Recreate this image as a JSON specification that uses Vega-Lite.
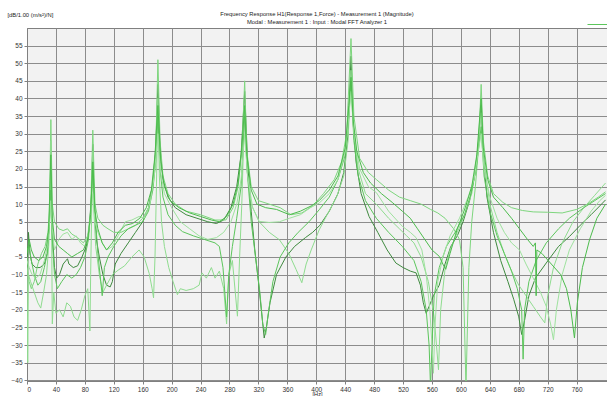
{
  "$schema": "https://vega.github.io/schema/vega-lite/v6.json",
  "autosize": "none",
  "width": 580,
  "height": 353,
  "padding": {"left": 27, "top": 28, "right": 0, "bottom": 15},
  "background": "#ffffff",
  "config": {
    "view": {"fill": "#f2f2f2", "stroke": "#808080", "strokeWidth": 1},
    "font": "Liberation Sans"
  },
  "title": {
    "text": ["Frequency Response H1(Response 1,Force) - Measurement 1 (Magnitude)", "Modal : Measurement 1 : Input : Modal FFT Analyzer 1"],
    "fontSize": 5.8,
    "fontWeight": "normal",
    "color": "#222222",
    "anchor": "middle",
    "offset": 3,
    "dy": 17,
    "lineHeight": 8
  },
  "data": {"values": [
{"s":"C1","f":0,"d":-2},{"s":"C1","f":1,"d":-10},{"s":"C1","f":2,"d":2},{"s":"C1","f":4,"d":-4},{"s":"C1","f":7,"d":-7},{"s":"C1","f":12,"d":-8},{"s":"C1","f":18,"d":-8},{"s":"C1","f":24,"d":-7},{"s":"C1","f":28,"d":-4},{"s":"C1","f":31,"d":5},{"s":"C1","f":33,"d":19},{"s":"C1","f":35,"d":2},{"s":"C1","f":38,"d":-8},{"s":"C1","f":41,"d":-11},{"s":"C1","f":45,"d":-10},{"s":"C1","f":50,"d":-7},{"s":"C1","f":54,"d":-6},{"s":"C1","f":56,"d":-5.5},{"s":"C1","f":58,"d":-7},{"s":"C1","f":64,"d":-8},{"s":"C1","f":70,"d":-7.5},{"s":"C1","f":76,"d":-5},{"s":"C1","f":82,"d":-2},{"s":"C1","f":86,"d":3},{"s":"C1","f":89,"d":12},{"s":"C1","f":91,"d":27},{"s":"C1","f":93,"d":10},{"s":"C1","f":96,"d":0},{"s":"C1","f":100,"d":-5},{"s":"C1","f":105,"d":-10},{"s":"C1","f":110,"d":-13},{"s":"C1","f":115,"d":-13.5},{"s":"C1","f":118,"d":-12},{"s":"C1","f":122,"d":-7},{"s":"C1","f":130,"d":-4},{"s":"C1","f":140,"d":-1},{"s":"C1","f":150,"d":2},{"s":"C1","f":160,"d":5},{"s":"C1","f":168,"d":9},{"s":"C1","f":174,"d":16},{"s":"C1","f":178,"d":26},{"s":"C1","f":181,"d":44},{"s":"C1","f":184,"d":26},{"s":"C1","f":188,"d":17},{"s":"C1","f":195,"d":12},{"s":"C1","f":205,"d":9},{"s":"C1","f":220,"d":7},{"s":"C1","f":235,"d":6},{"s":"C1","f":250,"d":5},{"s":"C1","f":262,"d":4.5},{"s":"C1","f":272,"d":5.5},{"s":"C1","f":282,"d":9},{"s":"C1","f":290,"d":15},{"s":"C1","f":296,"d":24},{"s":"C1","f":301,"d":42},{"s":"C1","f":305,"d":22},{"s":"C1","f":310,"d":8},{"s":"C1","f":315,"d":-3},{"s":"C1","f":320,"d":-12},{"s":"C1","f":325,"d":-22},{"s":"C1","f":328,"d":-28},{"s":"C1","f":331,"d":-25},{"s":"C1","f":336,"d":-18},{"s":"C1","f":345,"d":-10},{"s":"C1","f":358,"d":-5},{"s":"C1","f":370,"d":-2},{"s":"C1","f":385,"d":0.5},{"s":"C1","f":395,"d":2},{"s":"C1","f":405,"d":4},{"s":"C1","f":418,"d":8},{"s":"C1","f":430,"d":13},{"s":"C1","f":438,"d":19},{"s":"C1","f":444,"d":30},{"s":"C1","f":448,"d":52},{"s":"C1","f":451,"d":33},{"s":"C1","f":455,"d":22},{"s":"C1","f":462,"d":13},{"s":"C1","f":473,"d":6.5},{"s":"C1","f":485,"d":2},{"s":"C1","f":498,"d":-3},{"s":"C1","f":510,"d":-6.7},{"s":"C1","f":520,"d":-8},{"s":"C1","f":530,"d":-9},{"s":"C1","f":538,"d":-9.5},{"s":"C1","f":544,"d":-13},{"s":"C1","f":548,"d":-18},{"s":"C1","f":552,"d":-21},{"s":"C1","f":556,"d":-19},{"s":"C1","f":562,"d":-16},{"s":"C1","f":570,"d":-13},{"s":"C1","f":578,"d":-7},{"s":"C1","f":586,"d":-2},{"s":"C1","f":595,"d":1},{"s":"C1","f":603,"d":5},{"s":"C1","f":612,"d":11},{"s":"C1","f":619,"d":18},{"s":"C1","f":624,"d":27},{"s":"C1","f":628,"d":38},{"s":"C1","f":631,"d":24},{"s":"C1","f":636,"d":12},{"s":"C1","f":645,"d":2},{"s":"C1","f":655,"d":-6},{"s":"C1","f":665,"d":-12},{"s":"C1","f":673,"d":-17},{"s":"C1","f":680,"d":-22},{"s":"C1","f":684,"d":-27},{"s":"C1","f":688,"d":-23},{"s":"C1","f":694,"d":-16},{"s":"C1","f":703,"d":-11},{"s":"C1","f":718,"d":-6.7},{"s":"C1","f":735,"d":-2},{"s":"C1","f":750,"d":0.8},{"s":"C1","f":765,"d":4},{"s":"C1","f":780,"d":7},{"s":"C1","f":792,"d":9.5},{"s":"C1","f":800,"d":11.2},
{"s":"C2","f":0,"d":-8},{"s":"C2","f":3,"d":-12},{"s":"C2","f":6,"d":-14},{"s":"C2","f":10,"d":-12},{"s":"C2","f":15,"d":-7},{"s":"C2","f":20,"d":-4},{"s":"C2","f":25,"d":-2},{"s":"C2","f":29,"d":2},{"s":"C2","f":31,"d":8},{"s":"C2","f":33,"d":34},{"s":"C2","f":35,"d":10},{"s":"C2","f":38,"d":5},{"s":"C2","f":44,"d":3},{"s":"C2","f":50,"d":2.5},{"s":"C2","f":56,"d":3},{"s":"C2","f":62,"d":1.5},{"s":"C2","f":70,"d":0.5},{"s":"C2","f":78,"d":-1},{"s":"C2","f":84,"d":1},{"s":"C2","f":88,"d":8},{"s":"C2","f":91,"d":31},{"s":"C2","f":94,"d":10},{"s":"C2","f":98,"d":6},{"s":"C2","f":105,"d":4},{"s":"C2","f":112,"d":3},{"s":"C2","f":120,"d":2},{"s":"C2","f":130,"d":2},{"s":"C2","f":140,"d":3},{"s":"C2","f":150,"d":4},{"s":"C2","f":160,"d":6},{"s":"C2","f":168,"d":9},{"s":"C2","f":174,"d":15},{"s":"C2","f":178,"d":25},{"s":"C2","f":181,"d":51},{"s":"C2","f":184,"d":28},{"s":"C2","f":188,"d":18},{"s":"C2","f":195,"d":13},{"s":"C2","f":205,"d":10},{"s":"C2","f":220,"d":8},{"s":"C2","f":240,"d":7},{"s":"C2","f":260,"d":5.5},{"s":"C2","f":275,"d":5.5},{"s":"C2","f":285,"d":9},{"s":"C2","f":292,"d":15},{"s":"C2","f":297,"d":25},{"s":"C2","f":301,"d":45},{"s":"C2","f":304,"d":25},{"s":"C2","f":310,"d":15},{"s":"C2","f":320,"d":11},{"s":"C2","f":335,"d":10},{"s":"C2","f":350,"d":9},{"s":"C2","f":365,"d":7},{"s":"C2","f":380,"d":7.5},{"s":"C2","f":395,"d":9.5},{"s":"C2","f":410,"d":13},{"s":"C2","f":425,"d":17},{"s":"C2","f":435,"d":22},{"s":"C2","f":442,"d":30},{"s":"C2","f":448,"d":57},{"s":"C2","f":452,"d":35},{"s":"C2","f":460,"d":23},{"s":"C2","f":472,"d":19},{"s":"C2","f":483,"d":17},{"s":"C2","f":500,"d":14},{"s":"C2","f":515,"d":12},{"s":"C2","f":530,"d":11},{"s":"C2","f":545,"d":10},{"s":"C2","f":558,"d":8.5},{"s":"C2","f":568,"d":7.5},{"s":"C2","f":578,"d":6},{"s":"C2","f":590,"d":3},{"s":"C2","f":598,"d":0},{"s":"C2","f":603,"d":-8},{"s":"C2","f":607,"d":-42},{"s":"C2","f":611,"d":-8},{"s":"C2","f":615,"d":5},{"s":"C2","f":620,"d":15},{"s":"C2","f":624,"d":25},{"s":"C2","f":628,"d":44},{"s":"C2","f":631,"d":28},{"s":"C2","f":637,"d":18},{"s":"C2","f":645,"d":13},{"s":"C2","f":658,"d":10.5},{"s":"C2","f":670,"d":9},{"s":"C2","f":685,"d":8.2},{"s":"C2","f":700,"d":7.8},{"s":"C2","f":720,"d":7.7},{"s":"C2","f":740,"d":7.5},{"s":"C2","f":760,"d":8.5},{"s":"C2","f":775,"d":10},{"s":"C2","f":790,"d":12},{"s":"C2","f":800,"d":13.5},
{"s":"C3","f":0,"d":-5},{"s":"C3","f":1,"d":-35},{"s":"C3","f":2,"d":-10},{"s":"C3","f":5,"d":-12},{"s":"C3","f":10,"d":-15},{"s":"C3","f":15,"d":-18},{"s":"C3","f":19,"d":-19.5},{"s":"C3","f":23,"d":-15},{"s":"C3","f":27,"d":-10},{"s":"C3","f":30,"d":-2},{"s":"C3","f":32,"d":10},{"s":"C3","f":33,"d":28},{"s":"C3","f":34,"d":5},{"s":"C3","f":35,"d":-24},{"s":"C3","f":37,"d":-15},{"s":"C3","f":40,"d":-21},{"s":"C3","f":45,"d":-20},{"s":"C3","f":50,"d":-22},{"s":"C3","f":55,"d":-18},{"s":"C3","f":60,"d":-19},{"s":"C3","f":65,"d":-22},{"s":"C3","f":70,"d":-23},{"s":"C3","f":75,"d":-20},{"s":"C3","f":80,"d":-16},{"s":"C3","f":84,"d":-14},{"s":"C3","f":87,"d":-26},{"s":"C3","f":88,"d":-10},{"s":"C3","f":90,"d":15},{"s":"C3","f":91,"d":25},{"s":"C3","f":92,"d":10},{"s":"C3","f":95,"d":-2},{"s":"C3","f":100,"d":-10},{"s":"C3","f":105,"d":-15},{"s":"C3","f":110,"d":-13},{"s":"C3","f":118,"d":-10},{"s":"C3","f":127,"d":-8.6},{"s":"C3","f":135,"d":-7.5},{"s":"C3","f":145,"d":-5},{"s":"C3","f":155,"d":-3},{"s":"C3","f":162,"d":-5},{"s":"C3","f":169,"d":-9.7},{"s":"C3","f":173,"d":-14},{"s":"C3","f":175,"d":-16.6},{"s":"C3","f":177,"d":-5},{"s":"C3","f":179,"d":15},{"s":"C3","f":181,"d":40},{"s":"C3","f":183,"d":18},{"s":"C3","f":186,"d":5},{"s":"C3","f":190,"d":-2},{"s":"C3","f":196,"d":-8},{"s":"C3","f":202,"d":-12},{"s":"C3","f":208,"d":-15.7},{"s":"C3","f":212,"d":-14},{"s":"C3","f":220,"d":-14.5},{"s":"C3","f":230,"d":-14},{"s":"C3","f":238,"d":-13},{"s":"C3","f":242,"d":-9.5},{"s":"C3","f":248,"d":-11},{"s":"C3","f":255,"d":-8},{"s":"C3","f":260,"d":-11},{"s":"C3","f":266,"d":-9},{"s":"C3","f":272,"d":-14},{"s":"C3","f":276,"d":-24},{"s":"C3","f":279,"d":-10},{"s":"C3","f":284,"d":-6},{"s":"C3","f":291,"d":-21.8},{"s":"C3","f":294,"d":-5},{"s":"C3","f":297,"d":10},{"s":"C3","f":301,"d":38},{"s":"C3","f":304,"d":20},{"s":"C3","f":310,"d":10},{"s":"C3","f":321,"d":5},{"s":"C3","f":335,"d":2},{"s":"C3","f":349,"d":-0.1},{"s":"C3","f":362,"d":-4},{"s":"C3","f":372,"d":-8.5},{"s":"C3","f":380,"d":-12.3},{"s":"C3","f":386,"d":-7},{"s":"C3","f":393,"d":-3},{"s":"C3","f":404,"d":2.7},{"s":"C3","f":415,"d":7},{"s":"C3","f":428,"d":12},{"s":"C3","f":438,"d":18},{"s":"C3","f":444,"d":28},{"s":"C3","f":448,"d":48},{"s":"C3","f":452,"d":30},{"s":"C3","f":458,"d":20},{"s":"C3","f":468,"d":13},{"s":"C3","f":483,"d":10},{"s":"C3","f":500,"d":6},{"s":"C3","f":515,"d":3},{"s":"C3","f":525,"d":1},{"s":"C3","f":535,"d":-1},{"s":"C3","f":545,"d":-5},{"s":"C3","f":555,"d":-12},{"s":"C3","f":563,"d":-22},{"s":"C3","f":569,"d":-37},{"s":"C3","f":572,"d":-20},{"s":"C3","f":578,"d":-8.5},{"s":"C3","f":585,"d":-3},{"s":"C3","f":595,"d":2},{"s":"C3","f":605,"d":7},{"s":"C3","f":615,"d":13},{"s":"C3","f":622,"d":22},{"s":"C3","f":628,"d":36},{"s":"C3","f":632,"d":22},{"s":"C3","f":640,"d":10},{"s":"C3","f":650,"d":2},{"s":"C3","f":660,"d":-4},{"s":"C3","f":670,"d":-9},{"s":"C3","f":680,"d":-13},{"s":"C3","f":690,"d":-16},{"s":"C3","f":700,"d":-19},{"s":"C3","f":710,"d":-22},{"s":"C3","f":716,"d":-23.7},{"s":"C3","f":720,"d":-16},{"s":"C3","f":728,"d":-8},{"s":"C3","f":740,"d":-1},{"s":"C3","f":755,"d":5},{"s":"C3","f":770,"d":9},{"s":"C3","f":785,"d":12.5},{"s":"C3","f":800,"d":16},
{"s":"C4","f":0,"d":-3},{"s":"C4","f":3,"d":-2},{"s":"C4","f":6,"d":-6},{"s":"C4","f":10,"d":-10},{"s":"C4","f":15,"d":-13},{"s":"C4","f":19,"d":-12},{"s":"C4","f":24,"d":-8},{"s":"C4","f":28,"d":-4},{"s":"C4","f":31,"d":5},{"s":"C4","f":33,"d":14},{"s":"C4","f":35,"d":0},{"s":"C4","f":38,"d":-10},{"s":"C4","f":42,"d":-14},{"s":"C4","f":48,"d":-12},{"s":"C4","f":55,"d":-10},{"s":"C4","f":62,"d":-11},{"s":"C4","f":68,"d":-10},{"s":"C4","f":74,"d":-8},{"s":"C4","f":80,"d":-5},{"s":"C4","f":85,"d":0},{"s":"C4","f":88,"d":8},{"s":"C4","f":91,"d":20},{"s":"C4","f":94,"d":8},{"s":"C4","f":98,"d":-4},{"s":"C4","f":102,"d":-12},{"s":"C4","f":104,"d":-16},{"s":"C4","f":107,"d":-8},{"s":"C4","f":112,"d":-5},{"s":"C4","f":120,"d":-2},{"s":"C4","f":130,"d":1},{"s":"C4","f":140,"d":3},{"s":"C4","f":150,"d":4},{"s":"C4","f":160,"d":5},{"s":"C4","f":168,"d":8},{"s":"C4","f":174,"d":14},{"s":"C4","f":178,"d":22},{"s":"C4","f":181,"d":35},{"s":"C4","f":184,"d":20},{"s":"C4","f":188,"d":12},{"s":"C4","f":195,"d":7},{"s":"C4","f":205,"d":4},{"s":"C4","f":215,"d":2.2},{"s":"C4","f":230,"d":1},{"s":"C4","f":245,"d":0},{"s":"C4","f":260,"d":-1},{"s":"C4","f":266,"d":-2},{"s":"C4","f":271,"d":-8},{"s":"C4","f":276,"d":-22},{"s":"C4","f":279,"d":-10},{"s":"C4","f":284,"d":-2},{"s":"C4","f":290,"d":6},{"s":"C4","f":296,"d":15},{"s":"C4","f":301,"d":35},{"s":"C4","f":305,"d":18},{"s":"C4","f":310,"d":5},{"s":"C4","f":316,"d":-5},{"s":"C4","f":322,"d":-15},{"s":"C4","f":326,"d":-24},{"s":"C4","f":330,"d":-27},{"s":"C4","f":333,"d":-22},{"s":"C4","f":340,"d":-12},{"s":"C4","f":350,"d":-5},{"s":"C4","f":362,"d":-1},{"s":"C4","f":375,"d":2},{"s":"C4","f":390,"d":5},{"s":"C4","f":404,"d":8.4},{"s":"C4","f":418,"d":12},{"s":"C4","f":430,"d":17},{"s":"C4","f":440,"d":24},{"s":"C4","f":445,"d":35},{"s":"C4","f":448,"d":45},{"s":"C4","f":452,"d":28},{"s":"C4","f":458,"d":18},{"s":"C4","f":468,"d":11},{"s":"C4","f":483,"d":6},{"s":"C4","f":500,"d":2},{"s":"C4","f":519,"d":-2},{"s":"C4","f":535,"d":-6},{"s":"C4","f":545,"d":-12},{"s":"C4","f":552,"d":-20},{"s":"C4","f":556,"d":-30},{"s":"C4","f":558,"d":-42},{"s":"C4","f":560,"d":-30},{"s":"C4","f":563,"d":-16},{"s":"C4","f":570,"d":-8},{"s":"C4","f":580,"d":-2},{"s":"C4","f":592,"d":2},{"s":"C4","f":605,"d":7},{"s":"C4","f":614,"d":13},{"s":"C4","f":621,"d":20},{"s":"C4","f":628,"d":32},{"s":"C4","f":632,"d":18},{"s":"C4","f":640,"d":8},{"s":"C4","f":650,"d":1},{"s":"C4","f":660,"d":-4},{"s":"C4","f":670,"d":-9},{"s":"C4","f":678,"d":-14},{"s":"C4","f":684,"d":-20},{"s":"C4","f":686,"d":-34},{"s":"C4","f":688,"d":-20},{"s":"C4","f":694,"d":-12},{"s":"C4","f":704,"d":-6},{"s":"C4","f":718,"d":-1},{"s":"C4","f":735,"d":3},{"s":"C4","f":750,"d":6},{"s":"C4","f":770,"d":9},{"s":"C4","f":785,"d":11},{"s":"C4","f":800,"d":13},
{"s":"C5","f":0,"d":-6},{"s":"C5","f":3,"d":-8},{"s":"C5","f":7,"d":-10},{"s":"C5","f":12,"d":-11},{"s":"C5","f":18,"d":-10},{"s":"C5","f":24,"d":-6},{"s":"C5","f":28,"d":-2},{"s":"C5","f":31,"d":4},{"s":"C5","f":33,"d":11},{"s":"C5","f":35,"d":3},{"s":"C5","f":38,"d":-3},{"s":"C5","f":44,"d":0},{"s":"C5","f":50,"d":1.5},{"s":"C5","f":56,"d":2},{"s":"C5","f":62,"d":0},{"s":"C5","f":68,"d":1},{"s":"C5","f":74,"d":-1},{"s":"C5","f":80,"d":-2},{"s":"C5","f":85,"d":2},{"s":"C5","f":88,"d":6},{"s":"C5","f":91,"d":13},{"s":"C5","f":94,"d":5},{"s":"C5","f":98,"d":2},{"s":"C5","f":104,"d":-1},{"s":"C5","f":110,"d":-3},{"s":"C5","f":118,"d":-2},{"s":"C5","f":126,"d":1},{"s":"C5","f":136,"d":5},{"s":"C5","f":145,"d":5.5},{"s":"C5","f":155,"d":6.5},{"s":"C5","f":162,"d":6},{"s":"C5","f":170,"d":10},{"s":"C5","f":176,"d":18},{"s":"C5","f":181,"d":30},{"s":"C5","f":184,"d":20},{"s":"C5","f":190,"d":13},{"s":"C5","f":200,"d":9},{"s":"C5","f":212,"d":5},{"s":"C5","f":225,"d":3},{"s":"C5","f":238,"d":1},{"s":"C5","f":250,"d":0},{"s":"C5","f":262,"d":0.5},{"s":"C5","f":272,"d":2},{"s":"C5","f":282,"d":5},{"s":"C5","f":290,"d":10},{"s":"C5","f":296,"d":17},{"s":"C5","f":301,"d":30},{"s":"C5","f":305,"d":18},{"s":"C5","f":312,"d":9},{"s":"C5","f":321,"d":5.1},{"s":"C5","f":335,"d":4.8},{"s":"C5","f":349,"d":5},{"s":"C5","f":363,"d":6},{"s":"C5","f":378,"d":7},{"s":"C5","f":392,"d":9},{"s":"C5","f":404,"d":10.3},{"s":"C5","f":418,"d":13},{"s":"C5","f":430,"d":17},{"s":"C5","f":440,"d":25},{"s":"C5","f":445,"d":35},{"s":"C5","f":448,"d":42},{"s":"C5","f":452,"d":30},{"s":"C5","f":460,"d":20},{"s":"C5","f":472,"d":15},{"s":"C5","f":483,"d":13.3},{"s":"C5","f":500,"d":8},{"s":"C5","f":519,"d":3.7},{"s":"C5","f":530,"d":2},{"s":"C5","f":538,"d":0.5},{"s":"C5","f":546,"d":-3},{"s":"C5","f":552,"d":-10},{"s":"C5","f":557,"d":-20},{"s":"C5","f":560,"d":-30},{"s":"C5","f":562,"d":-38},{"s":"C5","f":564,"d":-25},{"s":"C5","f":568,"d":-12},{"s":"C5","f":575,"d":-5},{"s":"C5","f":585,"d":1},{"s":"C5","f":598,"d":6},{"s":"C5","f":610,"d":12},{"s":"C5","f":618,"d":17},{"s":"C5","f":624,"d":25},{"s":"C5","f":628,"d":30},{"s":"C5","f":632,"d":20},{"s":"C5","f":640,"d":12},{"s":"C5","f":650,"d":6},{"s":"C5","f":660,"d":2},{"s":"C5","f":670,"d":-1},{"s":"C5","f":681,"d":-3},{"s":"C5","f":690,"d":-7},{"s":"C5","f":700,"d":-11},{"s":"C5","f":710,"d":-15},{"s":"C5","f":718,"d":-19},{"s":"C5","f":724,"d":-24},{"s":"C5","f":728,"d":-28.5},{"s":"C5","f":732,"d":-20},{"s":"C5","f":740,"d":-10},{"s":"C5","f":750,"d":-3},{"s":"C5","f":765,"d":3},{"s":"C5","f":780,"d":8},{"s":"C5","f":792,"d":11},{"s":"C5","f":800,"d":12.5},
{"s":"C6","f":0,"d":-4},{"s":"C6","f":3,"d":0},{"s":"C6","f":6,"d":-3},{"s":"C6","f":10,"d":-5},{"s":"C6","f":16,"d":-6},{"s":"C6","f":22,"d":-5},{"s":"C6","f":27,"d":-2},{"s":"C6","f":30,"d":3},{"s":"C6","f":33,"d":24},{"s":"C6","f":35,"d":6},{"s":"C6","f":38,"d":0},{"s":"C6","f":44,"d":-2},{"s":"C6","f":50,"d":-3},{"s":"C6","f":56,"d":-4},{"s":"C6","f":62,"d":-5},{"s":"C6","f":70,"d":-4},{"s":"C6","f":78,"d":-3},{"s":"C6","f":84,"d":0},{"s":"C6","f":88,"d":7},{"s":"C6","f":91,"d":22},{"s":"C6","f":94,"d":8},{"s":"C6","f":98,"d":3},{"s":"C6","f":104,"d":-1},{"s":"C6","f":110,"d":-3},{"s":"C6","f":118,"d":-1},{"s":"C6","f":126,"d":2},{"s":"C6","f":136,"d":4},{"s":"C6","f":146,"d":4.5},{"s":"C6","f":156,"d":6},{"s":"C6","f":165,"d":9},{"s":"C6","f":172,"d":14},{"s":"C6","f":177,"d":24},{"s":"C6","f":181,"d":38},{"s":"C6","f":185,"d":22},{"s":"C6","f":190,"d":15},{"s":"C6","f":198,"d":11},{"s":"C6","f":210,"d":9},{"s":"C6","f":225,"d":7.5},{"s":"C6","f":240,"d":6.5},{"s":"C6","f":255,"d":5.5},{"s":"C6","f":266,"d":5},{"s":"C6","f":276,"d":6.5},{"s":"C6","f":285,"d":10},{"s":"C6","f":292,"d":16},{"s":"C6","f":297,"d":26},{"s":"C6","f":301,"d":38},{"s":"C6","f":304,"d":24},{"s":"C6","f":310,"d":14},{"s":"C6","f":318,"d":10},{"s":"C6","f":330,"d":9},{"s":"C6","f":345,"d":8.5},{"s":"C6","f":363,"d":7},{"s":"C6","f":378,"d":8},{"s":"C6","f":393,"d":9.5},{"s":"C6","f":404,"d":11},{"s":"C6","f":418,"d":14},{"s":"C6","f":430,"d":18},{"s":"C6","f":440,"d":26},{"s":"C6","f":445,"d":38},{"s":"C6","f":448,"d":46},{"s":"C6","f":451,"d":34},{"s":"C6","f":456,"d":25},{"s":"C6","f":465,"d":19},{"s":"C6","f":475,"d":16},{"s":"C6","f":490,"d":13},{"s":"C6","f":505,"d":10.5},{"s":"C6","f":519,"d":8},{"s":"C6","f":530,"d":6},{"s":"C6","f":540,"d":3},{"s":"C6","f":550,"d":0},{"s":"C6","f":560,"d":-3},{"s":"C6","f":570,"d":-4.8},{"s":"C6","f":575,"d":-7},{"s":"C6","f":579,"d":-8.5},{"s":"C6","f":585,"d":-4},{"s":"C6","f":595,"d":3},{"s":"C6","f":606,"d":9},{"s":"C6","f":615,"d":15},{"s":"C6","f":622,"d":24},{"s":"C6","f":628,"d":40},{"s":"C6","f":631,"d":26},{"s":"C6","f":637,"d":17},{"s":"C6","f":645,"d":12},{"s":"C6","f":658,"d":9},{"s":"C6","f":670,"d":6},{"s":"C6","f":681,"d":3},{"s":"C6","f":692,"d":0},{"s":"C6","f":700,"d":-2},{"s":"C6","f":703,"d":-1},{"s":"C6","f":704,"d":-16},{"s":"C6","f":705,"d":-3},{"s":"C6","f":712,"d":-4},{"s":"C6","f":725,"d":-7},{"s":"C6","f":738,"d":-10},{"s":"C6","f":746,"d":-14},{"s":"C6","f":752,"d":-20},{"s":"C6","f":757,"d":-28},{"s":"C6","f":761,"d":-18},{"s":"C6","f":768,"d":-8},{"s":"C6","f":778,"d":0},{"s":"C6","f":788,"d":6},{"s":"C6","f":800,"d":10}
  ]},
  "mark": {"type": "line", "strokeWidth": 1, "clip": true},
  "encoding": {
    "x": {
      "field": "f", "type": "quantitative",
      "scale": {"domain": [0, 802], "nice": false, "zero": false},
      "axis": {
        "title": "[Hz]", "titleFontSize": 5.6, "titleFontWeight": "normal", "titleColor": "#222222", "titlePadding": -1,
        "values": [0,40,80,120,160,200,240,280,320,360,400,440,480,520,560,600,640,680,720,760],
        "labelFontSize": 6.5, "labelColor": "#333333", "labelPadding": 2,
        "tickSize": 3, "tickColor": "#808080", "domainColor": "#808080",
        "grid": true, "gridColor": "#8c8c8c", "gridWidth": 1
      }
    },
    "y": {
      "field": "d", "type": "quantitative",
      "scale": {"domain": [-40.2, 60], "nice": false, "zero": false},
      "axis": {
        "title": "[dB/1.00 (m/s²)/N]", "titleAngle": 0, "titleAlign": "left", "titleBaseline": "middle",
        "titleX": -20, "titleY": -14, "titleFontSize": 5.8, "titleFontWeight": "normal", "titleColor": "#222222",
        "values": [-40,-35,-30,-25,-20,-15,-10,-5,0,5,10,15,20,25,30,35,40,45,50,55],
        "labelFontSize": 6.5, "labelColor": "#333333", "labelPadding": 2,
        "tickSize": 3, "tickColor": "#808080", "domainColor": "#808080",
        "grid": true, "gridColor": "#8c8c8c", "gridWidth": 1
      }
    },
    "color": {
      "field": "s", "type": "nominal",
      "scale": {"domain": ["C2","C3","C5","C4","C6","C1"], "range": ["#7ed67e","#8fdc8f","#9ee29e","#5cc65c","#4cbc4c","#3f8a3f"]},
      "legend": {
        "values": ["C4"], "orient": "none", "legendX": 560, "legendY": -14,
        "symbolType": "stroke", "symbolSize": 400, "symbolStrokeWidth": 1,
        "labelExpr": "''", "title": null, "padding": 0
      }
    },
    "order": {"field": "f", "type": "quantitative"}
  }
}
